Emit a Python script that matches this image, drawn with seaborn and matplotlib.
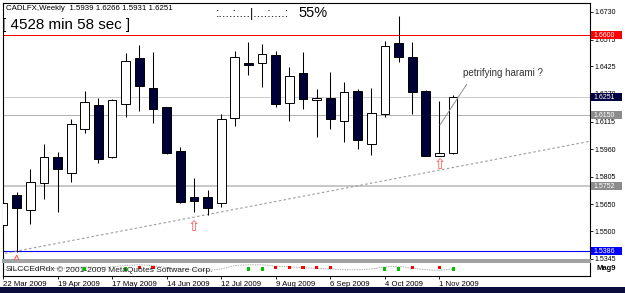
import numpy as np
import pandas as pd
import matplotlib
matplotlib.use("Agg")
import matplotlib.pyplot as plt
import seaborn as sns
from matplotlib.patches import Rectangle
from matplotlib.transforms import blended_transform_factory

# ---------------- data ----------------
weeks = pd.date_range("2009-03-22", periods=34, freq="7D")
opens  = [1.5534, 1.5703, 1.5618, 1.5768, 1.5914, 1.5824, 1.6071, 1.6208, 1.5914, 1.6213,
          1.6472, 1.6305, 1.6195, 1.5951, 1.5690, 1.5690, 1.5656, 1.6135, 1.6442, 1.6442,
          1.6487, 1.6217, 1.6386, 1.6234, 1.6247, 1.6116, 1.6286, 1.5987, 1.6159, 1.6554,
          1.6476, 1.6288, 1.5923, 1.5939]
highs  = [1.5670, 1.5721, 1.5847, 1.5989, 1.5942, 1.6129, 1.6286, 1.6245, 1.6242, 1.6498,
          1.6545, 1.6505, 1.6198, 1.5970, 1.5798, 1.5731, 1.6156, 1.6513, 1.6563, 1.6550,
          1.6513, 1.6420, 1.6505, 1.6296, 1.6391, 1.6337, 1.6296, 1.6302, 1.6566, 1.6708,
          1.6563, 1.6292, 1.6230, 1.6266]
lows   = [1.5523, 1.5384, 1.5540, 1.5678, 1.5609, 1.5777, 1.6049, 1.5881, 1.5909, 1.6139,
          1.6174, 1.6108, 1.5933, 1.5658, 1.5609, 1.5590, 1.5635, 1.6090, 1.6376, 1.6307,
          1.6198, 1.6120, 1.6187, 1.6030, 1.6071, 1.6002, 1.5961, 1.5927, 1.6139, 1.6448,
          1.6157, 1.5921, 1.5919, 1.5931]
closes = [1.5656, 1.5628, 1.5774, 1.5918, 1.5849, 1.6100, 1.6225, 1.5906, 1.6234, 1.6457,
          1.6316, 1.6184, 1.5937, 1.5662, 1.5671, 1.5628, 1.6128, 1.6476, 1.6432, 1.6493,
          1.6212, 1.6371, 1.6240, 1.6247, 1.6129, 1.6281, 1.6011, 1.6161, 1.6539, 1.6479,
          1.6283, 1.5923, 1.5937, 1.6251]

tick_idx = [0, 4, 8, 12, 16, 20, 24, 28, 32]
tick_labels = ["22 Mar 2009", "19 Apr 2009", "17 May 2009", "14 Jun 2009", "12 Jul 2009",
               "9 Aug 2009", "6 Sep 2009", "4 Oct 2009", "1 Nov 2009"]

price_ticks = [1.6730, 1.6575, 1.6425, 1.6270, 1.6115, 1.5960, 1.5805, 1.5650, 1.5500, 1.5345]

level_prices = [1.6600, 1.6251, 1.6150, 1.5752, 1.5386]
level_colors = ["#FF0000", "#C8C8C8", "#A8A8A8", "#C8C8C8", "#0000FF"]
level_widths = [1.0, 0.9, 0.9, 2.0, 1.1]
level_box_colors = ["#FF0000", "#000040", "#8C8C8C", "#8C8C8C", "#0000FF"]

trend_x = [0.15, 43.03]
trend_y = [1.5375, 1.6004]

harami_line_x = [32.04, 34.0]
harami_line_y = [1.6096, 1.6324]
harami_text = "petrifying harami ?"
harami_text_pos = (33.7, 1.6386)

arrow_idx = [14, 32]
arrow_y = [1.5527, 1.5871]
low_mark_idx = [1]
low_mark_y = [1.5346]

ind_vals = [0.45, 0.45, 0.50, 0.50, 0.55, 0.60, 0.65, 0.60, 0.65, 0.75,
            0.80, 0.75, 0.60, 0.50, 0.45, 0.40, 0.50, 0.75, 0.80, 0.80,
            0.70, 0.65, 0.60, 0.55, 0.50, 0.45, 0.45, 0.50, 0.65, 0.70,
            0.55, 0.45, 0.40, 0.50]
green_idx = [6, 9, 18, 19, 28, 29, 33]
red_idx = [10, 11, 20, 21, 22, 23, 24, 30, 32]

header = "CADLFX,Weekly  1.5939 1.6266 1.5931 1.6251"
timer = "[ 4528 min 58 sec ]"
ruler = ":....:....|....:....:"
pct = "55%"

# ---------------- style ----------------
sns.set_style("white")
plt.rcParams["font.family"] = ["Liberation Sans", "DejaVu Sans"]

W, H = 625, 293
fig = plt.figure(figsize=(W / 100, H / 100), dpi=100)
fig.patch.set_facecolor("white")

def frame(x0, y0, x1, y1):
    return [x0 / W, 1 - y1 / H, (x1 - x0) / W, (y1 - y0) / H]

ax = fig.add_axes(frame(3, 3, 590, 260))
axs = fig.add_axes(frame(3, 262, 590, 276), sharex=ax)

x = np.arange(len(opens))
ax.set_xlim(0, 43.04)
ax.set_ylim(1.53375, 1.67805)

# horizontal levels
for p, c, w in zip(level_prices, level_colors, level_widths):
    ax.axhline(p, color=c, lw=w * 0.72, zorder=1)

# trendline
sns.lineplot(x=trend_x, y=trend_y, ax=ax, color="#9A9A9A", lw=0.8,
             linestyle=(0, (2.2, 2.2)), zorder=2)

# candles
min_h = 0.0006
for i in range(len(opens)):
    o, h, l, c = opens[i], highs[i], lows[i], closes[i]
    ax.vlines(x[i], l, h, color="black", lw=0.75, zorder=3)
    bull = c >= o
    bot = min(o, c)
    hgt = max(abs(c - o), min_h)
    ax.bar(x[i], hgt, bottom=bot, width=0.64,
           color="white" if bull else "#000038",
           edgecolor="black", linewidth=0.7, zorder=4)

# fractal arrows
for xi, yi in zip(arrow_idx, arrow_y):
    ax.text(xi, yi, "\u21e7", color="#FF5050", fontsize=10.5, ha="center",
            va="center", zorder=5, family=["DejaVu Sans"])
sns.scatterplot(x=low_mark_idx, y=low_mark_y, ax=ax, marker="^", s=22,
                facecolor="none", edgecolor="#FF6060", linewidth=0.8, zorder=5)

# annotation
ax.plot(harami_line_x, harami_line_y, color="#909090", lw=0.7, zorder=5)
ax.text(harami_text_pos[0], harami_text_pos[1], harami_text, fontsize=7,
        color="#333333", ha="left", va="center", zorder=6)

# right price axis
ax.yaxis.tick_right()
ax.set_yticks(price_ticks)
ax.set_yticklabels([f"{v:.4f}" for v in price_ticks])
ax.tick_params(axis="y", length=2.2, width=0.6, pad=1.2, labelsize=5,
               direction="out", colors="black", right=True, left=False)
ax.tick_params(axis="x", bottom=False, labelbottom=False)
ax.set_xlabel("")
ax.set_ylabel("")

tr = blended_transform_factory(ax.transAxes, ax.transData)
bx0 = (590.7 - 3) / 587
bw = 31 / 587
bh = 8 / 1781
for p, bc in zip(level_prices, level_box_colors):
    ax.add_patch(Rectangle((bx0, p - bh / 2), bw, bh, transform=tr,
                           facecolor=bc, edgecolor="none", clip_on=False, zorder=10))
    ax.text(bx0 + 3 / 587, p, f"{p:.4f}", transform=tr, color="white",
            fontsize=5, ha="left", va="center", clip_on=False, zorder=11)

for side in ["left", "right", "top"]:
    ax.spines[side].set_color("black")
    ax.spines[side].set_linewidth(0.8)
ax.spines["bottom"].set_color("#A0A0A0")
ax.spines["bottom"].set_linewidth(1.4)

# ---------------- sub window ----------------
axs.set_ylim(0, 1)
sns.lineplot(x=x, y=ind_vals, ax=axs, color="#B0B0B0", lw=0.7,
             linestyle=(0, (1.5, 1)), zorder=2)
sns.scatterplot(x=green_idx, y=[0.5] * len(green_idx), ax=axs, marker="s", s=5,
                color="#00C000", edgecolor="none", zorder=3)
sns.scatterplot(x=red_idx, y=[0.62] * len(red_idx), ax=axs, marker="s", s=5,
                color="#FF0000", edgecolor="none", zorder=3)
axs.text(3 / 587, 0.45, "SILCCEdRdx", transform=axs.transAxes, fontsize=6,
         ha="left", va="center", color="#222222", zorder=4)
axs.text(54 / 587, 0.45, "\u00a9 2001-2009 MetaQuotes Software Corp.",
         transform=axs.transAxes, fontsize=6, ha="left", va="center",
         color="#222222", zorder=4)
axs.text(1.011, 0.5, "Mag9", transform=axs.transAxes, fontsize=5.5,
         fontweight="bold", ha="left", va="center", color="black", clip_on=False)
axs.set_yticks([])
axs.set_xticks(tick_idx)
axs.set_xticklabels(tick_labels)
for lab in axs.get_xticklabels():
    lab.set_horizontalalignment("left")
axs.tick_params(axis="x", length=2.5, width=0.6, pad=1, labelsize=5.6,
                direction="out", colors="black", bottom=True)
axs.set_xlabel("")
axs.set_ylabel("")
for side in ["left", "right", "bottom"]:
    axs.spines[side].set_color("black")
    axs.spines[side].set_linewidth(0.8)
axs.spines["top"].set_color("#A0A0A0")
axs.spines["top"].set_linewidth(1.4)

# ---------------- header texts ----------------
fig.text(6 / W, 1 - 8 / H, header, fontsize=5.7, ha="left", va="center", color="black")
fig.text(2 / W, 1 - 25 / H, timer, fontsize=10.9, ha="left", va="center", color="black")
fig.text(216 / W, 1 - 14 / H, ruler, fontsize=9.2, ha="left", va="center", color="black")
fig.text(298 / W, 1 - 13 / H, pct, fontsize=10.5, ha="left", va="center", color="black")

# bottom strip
fig.patches.append(Rectangle((0, 0), 1, 6 / H, transform=fig.transFigure,
                             facecolor="#0c0c3c", edgecolor="none"))

fig.savefig("out.png", dpi=100)
